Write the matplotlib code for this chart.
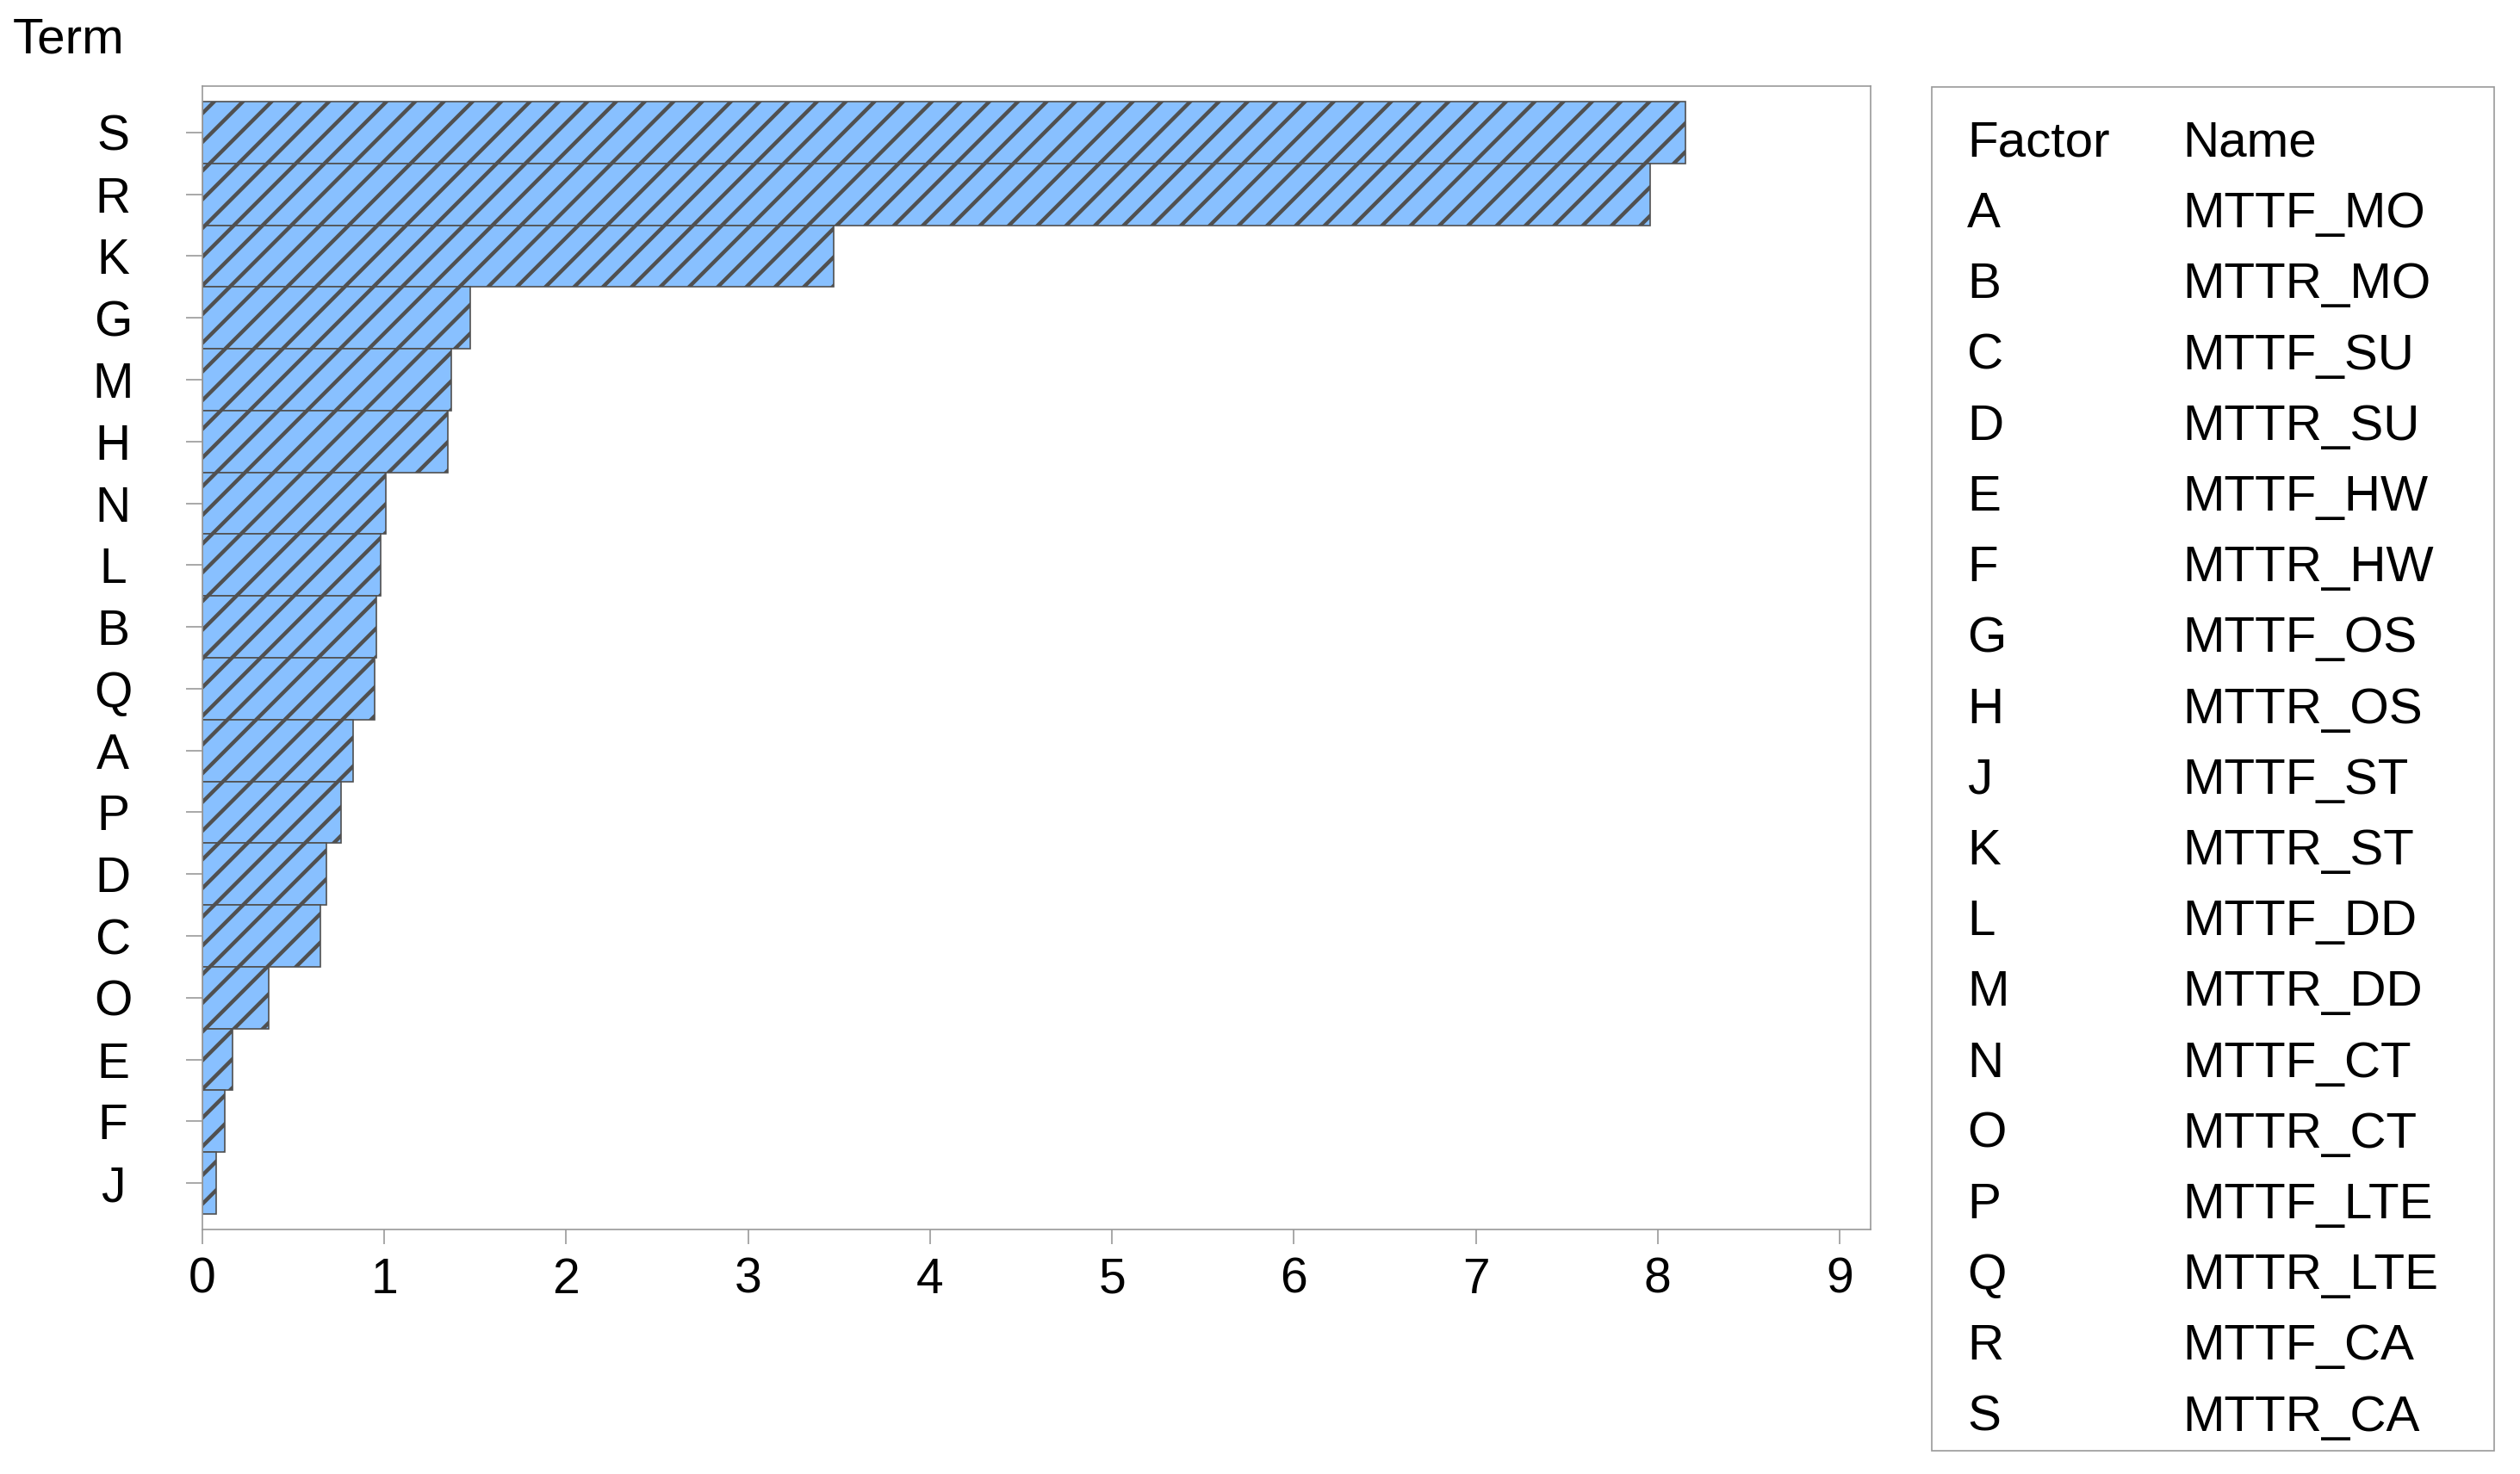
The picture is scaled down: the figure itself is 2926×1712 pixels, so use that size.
import matplotlib
matplotlib.use("Agg")
import matplotlib.pyplot as plt
from matplotlib.patches import Rectangle

plt.rcParams['font.family'] = ['Liberation Sans', 'DejaVu Sans']
plt.rcParams['hatch.linewidth'] = 1.6

# bars, top to bottom
terms = ["S", "R", "K", "G", "M", "H", "N", "L", "B", "Q", "A", "P", "D", "C", "O", "E", "F", "J"]
effects = [8.15, 7.96, 3.47, 1.47, 1.37, 1.35, 1.01, 0.98, 0.955, 0.945, 0.83, 0.76, 0.68, 0.65, 0.365, 0.166, 0.123, 0.076]

# factor table on the right
factors = ["A", "B", "C", "D", "E", "F", "G", "H", "J", "K", "L", "M", "N", "O", "P", "Q", "R", "S"]
names = ["MTTF_MO", "MTTR_MO", "MTTF_SU", "MTTR_SU", "MTTF_HW", "MTTR_HW", "MTTF_OS", "MTTR_OS",
         "MTTF_ST", "MTTR_ST", "MTTF_DD", "MTTR_DD", "MTTF_CT", "MTTR_CT", "MTTF_LTE", "MTTR_LTE",
         "MTTF_CA", "MTTR_CA"]

W, H = 2926, 1712
fig = plt.figure(figsize=(W / 200, H / 200), dpi=200)
ax = fig.add_axes([235 / W, 1 - 1428 / H, (2172 - 235) / W, (1428 - 100) / H])

n = len(terms)
ypos = list(range(n - 1, -1, -1))
ax.barh(ypos, effects, height=1.0, color='#88c0ff', edgecolor='#505050',
        linewidth=0.6, hatch='//')
ax.set_yticks(ypos)
ax.set_yticklabels(terms, ha='center')
ax.set_xlim(0, 9.17)
ax.set_ylim(-0.75, n - 0.25)
ax.set_xticks(range(10))

grey = '#999999'
for s in ax.spines.values():
    s.set_color(grey)
    s.set_linewidth(0.6)
ax.tick_params(axis='y', length=6.8, width=0.6, color=grey, labelsize=20.5, pad=30.6)
ax.tick_params(axis='x', length=6, width=0.6, color=grey, labelsize=20.5, pad=5.5)

fig.text(15 / W, 1 - 62 / H, "Term", fontsize=21, ha='left', va='baseline')

# factor/name box
fig.patches.append(Rectangle((2243 / W, 1 - 1685 / H), (2896 - 2243) / W, (1685 - 101) / H,
                             transform=fig.transFigure, fill=False, edgecolor=grey, linewidth=0.6))
rows = [("Factor", "Name")] + list(zip(factors, names))
for i, (f, nm) in enumerate(rows):
    yb = 1 - (182 + i * 82.2) / H
    fig.text(2284 / W, yb, f, fontsize=21, ha='left', va='baseline')
    fig.text(2534 / W, yb, nm, fontsize=21, ha='left', va='baseline')

fig.savefig("out.png", dpi=200)
